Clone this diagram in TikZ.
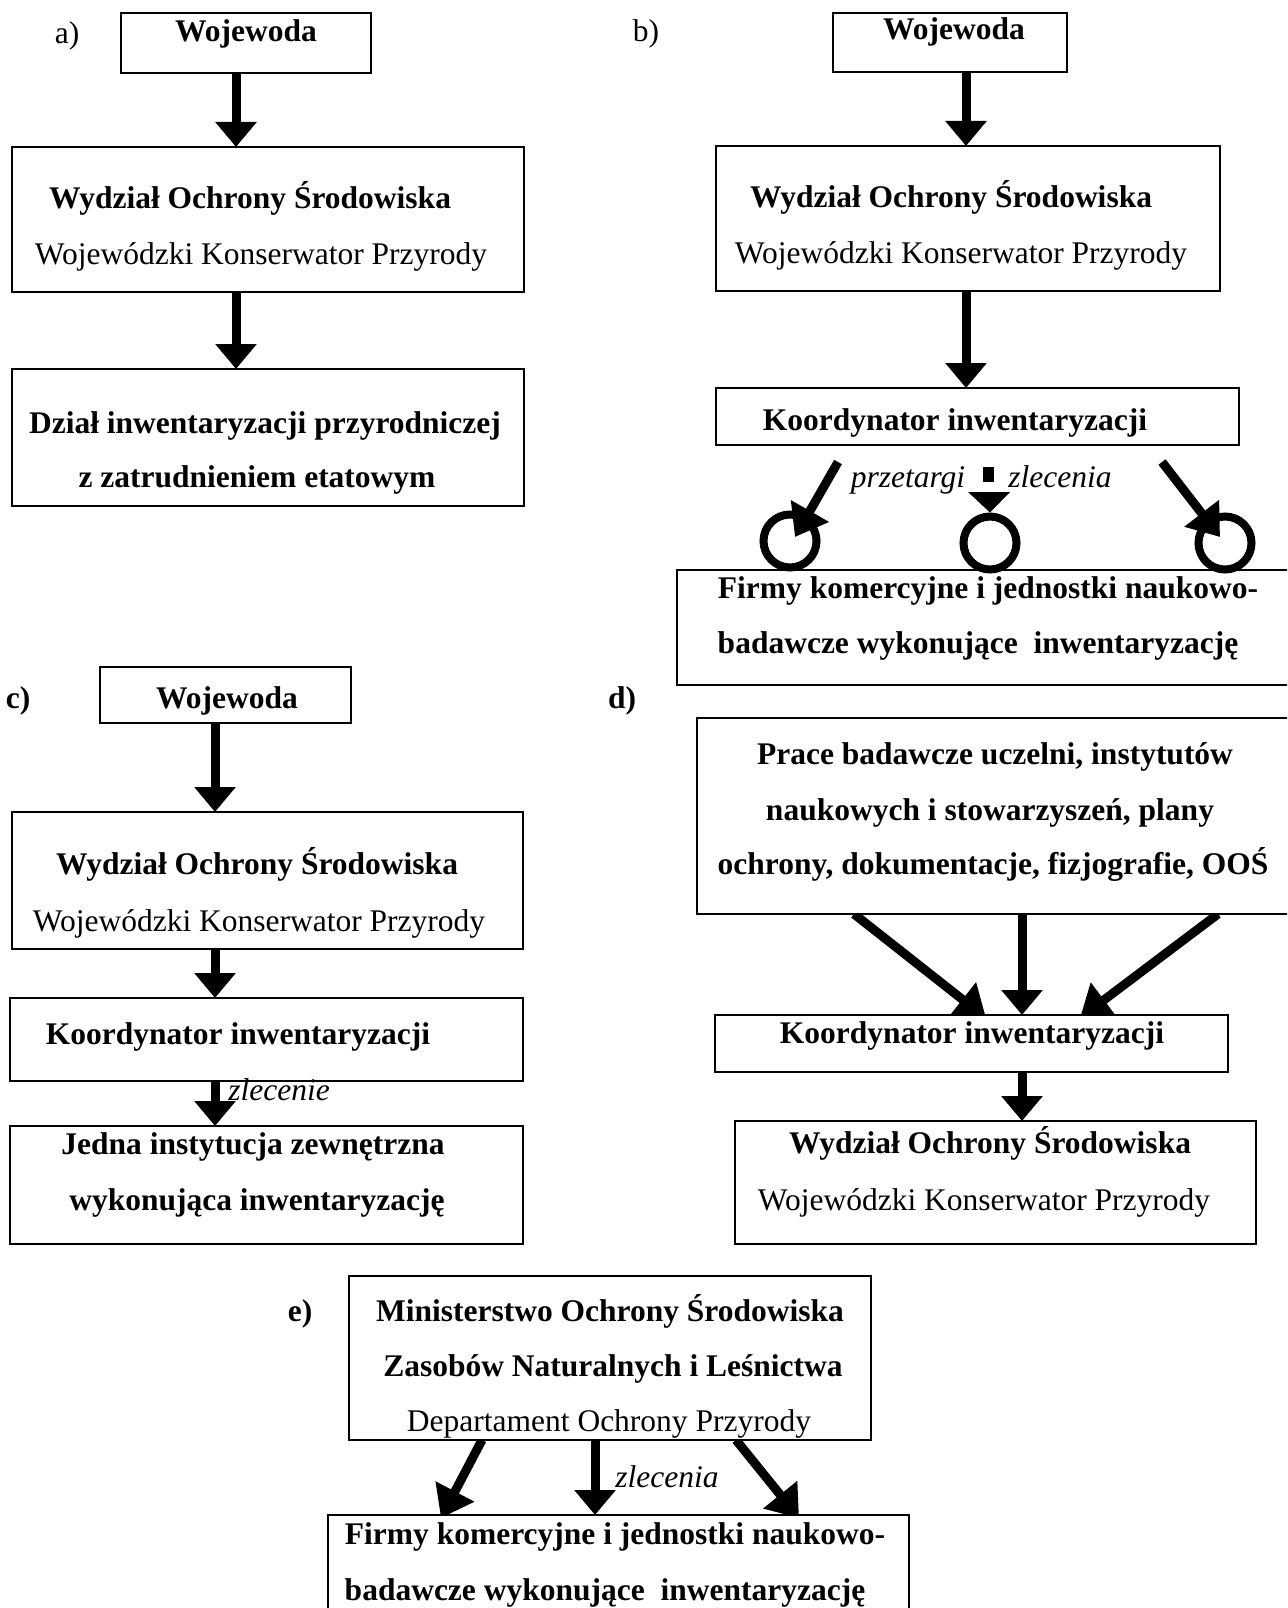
\documentclass[tikz,border=0pt]{standalone}
\usepackage{fontspec}
\setmainfont{Liberation Serif}
\usetikzlibrary{arrows.meta,fit,calc}
\pgfdeclarelayer{bg}
\pgfsetlayers{bg,main}
\tikzset{
  box/.style={draw, fill=white, line width=2pt, inner sep=0pt, outer sep=0pt, fit={#1}},
  tbase/.style={inner sep=0pt, text height=21pt, text depth=0pt},
  tr/.style={tbase, font=\fontsize{31.5pt}{36pt}\selectfont},
  tb/.style={tbase, font=\fontsize{31.5pt}{36pt}\selectfont\bfseries},
  ti/.style={tbase, font=\fontsize{31.5pt}{36pt}\selectfont\itshape},
  bigarrow/.style={line width=9pt, -{Triangle[width=40pt,length=25pt]}},
  diagarrow/.style={line width=9pt, -{Triangle[width=42pt,length=30pt]}},
  ring/.style={circle, draw, line width=8pt, minimum size=53pt, inner sep=0pt}
}
\begin{document}
\begin{tikzpicture}[x=1pt,y=-1pt]
\useasboundingbox (0,0) rectangle (1287,1608);
\clip (0,0) rectangle (1287,1608);
\begin{pgfonlayer}{bg}
\fill[white] (0,0) rectangle (1287,1608);
\end{pgfonlayer}

% x positions of the vertical arrows
\coordinate (xa) at (236,0);
\coordinate (xb) at (966,0);
\coordinate (xc) at (215,0);
\coordinate (xd) at (1022,0);
\coordinate (xe) at (595,0);

% ================= a) =================
\node[box={(121,13) (371,73)}] (wojA) {};
\node[box={(12,147) (524,292)}] (wydA) {};
\node[box={(12,369) (524,506)}] (dzialA) {};
\node[tr] (la) at (67,33) {a)};
\node[tb] (twojA) at (246,31) {Wojewoda};
\node[tb] (twydA1) at (250,198) {Wydział Ochrony Środowiska};
\node[tr] (twydA2) at (261,254) {Wojewódzki Konserwator Przyrody};
\node[tb] (tdzA1) at (265,423) {Dział inwentaryzacji przyrodniczej};
\node[tb] (tdzA2) at (257,477) {z zatrudnieniem etatowym};
\draw[bigarrow] (wojA.south -| xa) -- (wydA.north -| xa);
\draw[bigarrow] (wydA.south -| xa) -- (dzialA.north -| xa);

% ================= b) =================
\node[box={(833,13) (1067,72)}] (wojB) {};
\node[box={(716,146) (1220,291)}] (wydB) {};
\node[box={(716,388) (1239,445)}] (koordB) {};
\node[box={(677,570) (1300,685)}] (firmyB) {};
\node[tr] (lb) at (646,31) {b)};
\node[tb] (twojB) at (954,29) {Wojewoda};
\node[tb] (twydB1) at (951,197) {Wydział Ochrony Środowiska};
\node[tr] (twydB2) at (961,253) {Wojewódzki Konserwator Przyrody};
\node[tb] (tkoB) at (955,420) {Koordynator inwentaryzacji};
\node[ti] (tprz) at (908,477) {przetargi};
\node[ti] (tzlB) at (1060,477) {zlecenia};
\node[tb] (tfiB1) at (988,588) {Firmy komercyjne i jednostki naukowo-};
\node[tb] (tfiB2) at (978,643) {badawcze wykonujące\ \ inwentaryzację};
\draw[bigarrow] (wojB.south -| xb) -- (wydB.north -| xb);
\draw[bigarrow] (wydB.south -| xb) -- (koordB.north -| xb);
\node[ring] (cL) at (790,541) {};
\node[ring] (cM) at (990,543) {};
\node[ring] (cR) at (1225,543) {};
\coordinate (bL0) at (838,462);
\coordinate (bR0) at (1162,462);
\coordinate (bM0) at (988,467);
\coordinate (bM1) at (988,482);
\draw[diagarrow] (bL0) -- ($(cL.center)+(5,-4)$);
\draw[diagarrow] (bR0) -- ($(cR.center)+(-5,-6)$);
\draw[line width=11pt] (bM0) -- (bM1);
\fill (968,492) -- (1010,492) -- (cM.north) -- cycle;

% ================= c) =================
\node[box={(100,667) (351,723)}] (wojC) {};
\node[box={(12,812) (523,949)}] (wydC) {};
\node[box={(10,998) (523,1081)}] (koordC) {};
\node[box={(10,1126) (523,1244)}] (jednaC) {};
\node[tb] (lc) at (18,698) {c)};
\node[tb] (twojC) at (227,698) {Wojewoda};
\node[tb] (twydC1) at (257,864) {Wydział Ochrony Środowiska};
\node[tr] (twydC2) at (259,921) {Wojewódzki Konserwator Przyrody};
\node[tb] (tkoC) at (238,1034) {Koordynator inwentaryzacji};
\node[tb] (tjeC1) at (253,1144) {Jedna instytucja zewnętrzna};
\node[tb] (tjeC2) at (257,1200) {wykonująca inwentaryzację};
\draw[bigarrow] (wojC.south -| xc) -- (wydC.north -| xc);
\draw[bigarrow] (wydC.south -| xc) -- (koordC.north -| xc);
\draw[bigarrow] (koordC.south -| xc) -- (jednaC.north -| xc);
\node[ti] (tzlC) at (279,1090) {zlecenie};

% ================= d) =================
\node[box={(697,718) (1300,914)}] (praceD) {};
\node[box={(715,1015) (1228,1072)}] (koordD) {};
\node[box={(735,1121) (1256,1244)}] (wydD) {};
\node[tb] (ld) at (622,698) {d)};
\node[tb] (tprD1) at (995,754) {Prace badawcze uczelni, instytutów};
\node[tb] (tprD2) at (990,810) {naukowych i stowarzyszeń, plany};
\node[tb] (tprD3) at (993,864) {ochrony, dokumentacje, fizjografie, OOŚ};
\node[tb] (tkoD) at (972,1033) {Koordynator inwentaryzacji};
\node[tb] (twydD1) at (990,1143) {Wydział Ochrony Środowiska};
\node[tr] (twydD2) at (984,1200) {Wojewódzki Konserwator Przyrody};
\coordinate (dL) at (854,0);
\coordinate (dR) at (1218,0);
\coordinate (dL1) at (986,1018);
\coordinate (dR1) at (1080,1018);
\begin{pgfonlayer}{bg}
\draw[diagarrow] (praceD.south -| dL) -- (dL1);
\draw[diagarrow] (praceD.south -| dR) -- (dR1);
\end{pgfonlayer}
\draw[bigarrow] (praceD.south -| xd) -- (koordD.north -| xd);
\draw[bigarrow] (koordD.south -| xd) -- (wydD.north -| xd);

% ================= e) =================
\node[box={(349,1276) (871,1440)}] (minE) {};
\node[box={(328,1515) (909,1625)}] (firmyE) {};
\node[tb] (le) at (300,1311) {e)};
\node[tb] (tmiE1) at (610,1311) {Ministerstwo Ochrony Środowiska};
\node[tb] (tmiE2) at (613,1366) {Zasobów Naturalnych i Leśnictwa};
\node[tr] (tmiE3) at (609,1421) {Departament Ochrony Przyrody};
\node[ti] (tzlE) at (667,1477) {zlecenia};
\node[tb] (tfiE1) at (615,1534) {Firmy komercyjne i jednostki naukowo-};
\node[tb] (tfiE2) at (605,1590) {badawcze wykonujące\ \ inwentaryzację};
\coordinate (eL) at (482,0);
\coordinate (eR) at (736,0);
\coordinate (eL1) at (441,1518);
\coordinate (eR1) at (799,1518);
\begin{pgfonlayer}{bg}
\draw[diagarrow] (minE.south -| eL) -- (eL1);
\draw[diagarrow] (minE.south -| eR) -- (eR1);
\end{pgfonlayer}
\draw[bigarrow] (minE.south -| xe) -- (firmyE.north -| xe);
\end{tikzpicture}
\end{document}
